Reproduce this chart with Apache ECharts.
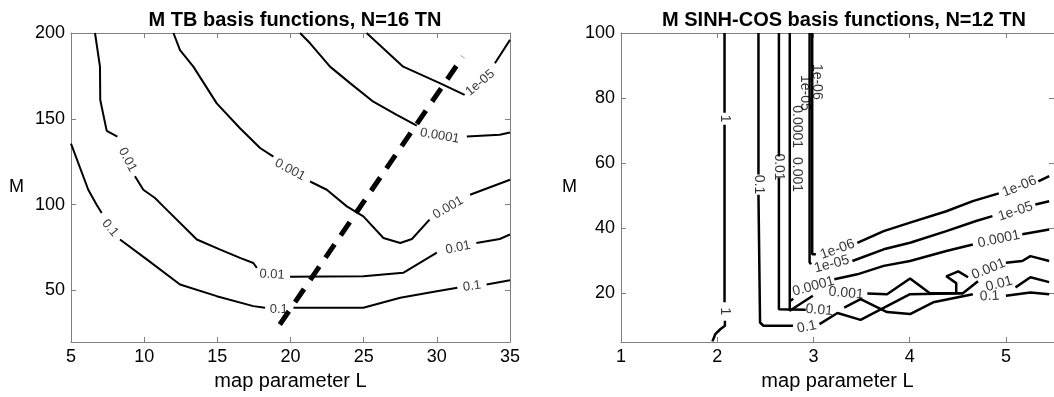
<!DOCTYPE html>
<html>
<head>
<meta charset="utf-8">
<script src="https://cdn.jsdelivr.net/npm/echarts@6/dist/echarts.min.js"></script>
<style>
  html, body { margin: 0; padding: 0; background: #fff; }
  #chart { width: 1054px; height: 397px; }
</style>
</head>
<body>
<div id="chart"></div>
<script>
// ---- left panel: M TB basis functions, N=16 TN  (x = L, y = M) ----
// null = gap in the contour where its label sits
var tbLevel01 = [[5,135.5],[6.18,108.7],[6.75,100],[7.1,95.2],null,[8.35,79.7],[10.2,68],[12.45,53.5],[14.96,46.7],[17.46,40.9],[18.26,40],null,[20.2,40],[24.98,40],[27.5,45.8],[30,49.6],[31.4,51.6],null,[33.4,53.5],[35,56]];
var tbLevel001 = [[6.64,200],[6.98,180.4],[7.0,161],[7.44,143],[8.17,139.7],null,[9.37,116.5],[9.94,108.7],[10.74,103.9],[11.31,99],[13.6,79.7],[15.2,73.8],[16.55,69],[17.46,66],[17.7,63.2],null,[19.97,58],[24.98,58.3],[27.7,60.3],[30,72],null,[32.7,77.7],[34.3,80],[35,82.6]];
var tbLevel0001 = [[12,200],[12.45,190],[13.36,180.4],[14.96,159],[16.55,144.5],[17.92,133],[18.83,128],null,[21.34,113.5],[22.48,108.7],[23.85,99],[24.98,93.2],[26.35,80.6],[27.5,77.7],[28.3,80],[29.5,91.3],null,[32.27,105.8],[35,114.5]];
var tbLevel00001 = [[20.65,200],[21.34,194],[22.7,180.4],[24.07,170.8],[25.66,160],[27.26,152.3],[28.63,146],null,[32.05,139.7],[34.3,140.7],[35,142]];
var tbLevel1e5 = [[25.2,200],[27.7,180.4],[30.2,170.8],[31.9,164],null,[33.97,182.4],[35,196]];
var tbDashed = [[19.27,30.2],[31.77,186.2]];
// [text, L, M, angle]
var tbLabels = [
  ['0.01', 8.86, 126.2, -62],
  ['0.1', 7.67, 86.3, -50],
  ['0.001', 19.97, 120.3, -28],
  ['0.01', 18.74, 59.3, -3],
  ['0.1', 19.2, 39, 0],
  ['0.0001', 30.2, 140.1, -10],
  ['1e-05', 32.96, 171, 40],
  ['0.001', 30.77, 98.2, 30],
  ['0.01', 31.45, 75, 12],
  ['0.1', 32.4, 52.5, 8]
];

// ---- right panel: M SINH-COS basis functions, N=12 TN ----
var scLevel1 = [[2.076,100],[2.076,75.5],null,[2.076,71.8],[2.076,17.2],null,[2.08,11.5],[2.08,10],[2.035,9],[1.98,7.4],[1.95,5.2]];
var scLevel01 = [[2.4286,100],[2.4286,56.5],null,[2.4286,50.3],[2.445,11],[2.48,10],[2.788,10],null,[3.063,10.5],[3.25,13.9],[3.49,11.8],[4.004,19.7],[4.553,20],null,[5.1,21.8],[5.255,24.9],[5.45,23.4]];
var scLevel001 = [[2.641,100],[2.641,62],null,[2.641,55.6],[2.641,15.1],[2.66,14.8],[2.92,14.9],null,[3.32,15.6],[3.49,18.2],[3.765,14.2],[4.004,13.6],[4.245,17.2],[4.656,19.7],null,[5.0,19.2],[5.255,20.2],[5.45,19.7]];
var scLevel0001 = [[2.754,100],[2.754,14.6],[2.994,19.2],null,[3.56,19.9],[3.765,19.7],[4.004,24.5],[4.21,20],[4.553,20],[4.71,23.7],null,[5.0,29.4],[5.17,29.9],[5.255,31.4],[5.45,29.9],null,[4.484,20],[4.484,23.1],[4.381,25.2],[4.505,26.7],[4.607,24.9]];
var scLevel00001 = [[2.754,17.5],[2.79,18.3],null,[3.217,24.3],[3.456,25.8],[3.73,28.4],[4.004,29.9],[4.381,33],[4.656,35],null,[5.17,38.1],[5.45,39.6]];
var scLevel1e5 = [[2.96,100],[2.96,29.5],[2.975,28.9],null,[3.405,29.9],[3.73,33.5],[4.004,35.5],[4.381,39.1],[4.69,42.2],[4.86,43.7],null,[5.306,47.3],[5.45,48.3]];
var scLevel1e6 = [[2.987,100],[2.987,32],[3.025,32],null,[3.456,35.5],[3.73,39.1],[4.004,41.7],[4.381,45.2],[4.656,48.3],[4.926,50.7],null,[5.337,54.4],[5.45,56]];
var scLabels = [
  ['1', 2.076, 73.7, -90],
  ['1', 2.076, 14.4, -90],
  ['0.1', 2.4286, 53.4, -90],
  ['0.01', 2.641, 58.8, -90],
  ['0.0001', 2.83, 71.2, -90],
  ['0.001', 2.83, 56.5, -90],
  ['1e-06', 3.04, 85, -90],
  ['1e-05', 2.91, 81.6, -90],
  ['1e-06', 3.25, 33.5, 20],
  ['1e-05', 3.19, 28.9, 15],
  ['0.0001', 3.0, 22.1, 15],
  ['0.001', 3.34, 20, -5],
  ['0.01', 3.06, 14.8, -5],
  ['0.1', 2.93, 9.6, 12],
  ['1e-06', 5.14, 52.8, 22],
  ['1e-05', 5.1, 45.1, 18],
  ['0.0001', 4.926, 36.6, 12],
  ['0.001', 4.82, 27.4, 22],
  ['0.01', 4.93, 22.8, 15],
  ['0.1', 4.83, 19.1, 3]
];

var tbXTicks = [5, 10, 15, 20, 25, 30, 35];
var tbYTicks = [50, 100, 150, 200];
var scXTicks = [1, 2, 3, 4, 5];
var scYTicks = [20, 40, 60, 80, 100];

var FONT = "'Liberation Sans', Arial, sans-serif";
var AXIS_GREY = '#808080';

function contour(points, axis, width) {
  return {
    type: 'line',
    xAxisIndex: axis, yAxisIndex: axis,
    data: points.map(function (p) { return p ? p : ['-', '-']; }),
    showSymbol: false, symbol: 'none',
    connectNulls: false,
    silent: true,
    lineStyle: { color: '#000', width: width }
  };
}

function labelSeries(list, axis, size) {
  return {
    type: 'scatter',
    xAxisIndex: axis, yAxisIndex: axis,
    symbolSize: 0,
    silent: true,
    clip: false,
    data: list.map(function (l) {
      return {
        value: [l[1], l[2]],
        label: { formatter: l[0], rotate: l[3] }
      };
    }),
    label: {
      show: true, position: 'inside', color: '#000',
      fontFamily: FONT, fontSize: size,
      align: 'center', verticalAlign: 'middle'
    }
  };
}

function xAxes(gridIdx, min, max, ticks) {
  var bottom = {
    type: 'value', gridIndex: gridIdx, position: 'bottom',
    min: min, max: max,
    name: 'map parameter L', nameLocation: 'middle', nameGap: 29,
    nameTextStyle: { fontFamily: FONT, fontSize: 20, color: '#000' },
    axisLine: { lineStyle: { color: AXIS_GREY } },
    axisTick: { inside: true, length: 5, customValues: ticks, lineStyle: { color: AXIS_GREY } },
    axisLabel: { customValues: ticks, fontFamily: FONT, fontSize: 18, color: '#000', margin: 6 },
    splitLine: { show: false }
  };
  var top = {
    type: 'value', gridIndex: gridIdx, position: 'top',
    min: min, max: max,
    axisLine: { lineStyle: { color: AXIS_GREY } },
    axisTick: { inside: true, length: 5, customValues: ticks, lineStyle: { color: AXIS_GREY } },
    axisLabel: { show: false },
    splitLine: { show: false }
  };
  return [bottom, top];
}

function yAxes(gridIdx, min, max, ticks, gap) {
  var left = {
    type: 'value', gridIndex: gridIdx, position: 'left',
    min: min, max: max,
    name: 'M', nameLocation: 'middle', nameGap: gap, nameRotate: 0,
    nameTextStyle: { fontFamily: FONT, fontSize: 18, color: '#000' },
    axisLine: { show: true, lineStyle: { color: AXIS_GREY } },
    axisTick: { show: true, inside: true, length: 5, customValues: ticks, lineStyle: { color: AXIS_GREY } },
    axisLabel: { customValues: ticks, fontFamily: FONT, fontSize: 18, color: '#000', margin: 6 },
    splitLine: { show: false }
  };
  var right = {
    type: 'value', gridIndex: gridIdx, position: 'right',
    min: min, max: max,
    axisLine: { show: true, lineStyle: { color: AXIS_GREY } },
    axisTick: { show: true, inside: true, length: 5, customValues: ticks, lineStyle: { color: AXIS_GREY } },
    axisLabel: { show: false },
    splitLine: { show: false }
  };
  return [left, right];
}

var chart = echarts.init(document.getElementById('chart'), null, { renderer: 'canvas' });

var option = {
  animation: false,
  backgroundColor: '#fff',
  title: [
    { text: 'M TB basis functions, N=16 TN', left: 290, top: 5, textAlign: 'center',
      textStyle: { fontFamily: FONT, fontSize: 20, fontWeight: 'bold', color: '#000' } },
    { text: 'M SINH-COS basis functions, N=12 TN', left: 839, top: 5, textAlign: 'center',
      textStyle: { fontFamily: FONT, fontSize: 20, fontWeight: 'bold', color: '#000' } }
  ],
  grid: [
    { left: 71, top: 33, width: 439, height: 309 },
    { left: 621, top: 33, width: 438, height: 309 }
  ],
  xAxis: [].concat(xAxes(0, 5, 35, tbXTicks), xAxes(1, 1, 5.5, scXTicks)),
  yAxis: [].concat(yAxes(0, 20, 200, tbYTicks, 47), yAxes(1, 5, 100, scYTicks, 44)),
  series: [
    contour(tbLevel01, 0, 2),
    contour(tbLevel001, 0, 2),
    contour(tbLevel0001, 0, 2),
    contour(tbLevel00001, 0, 2),
    contour(tbLevel1e5, 0, 2),
    {
      type: 'line', xAxisIndex: 0, yAxisIndex: 0,
      data: tbDashed, showSymbol: false, symbol: 'none', silent: true,
      lineStyle: { color: '#000', width: 5, type: [16, 11], cap: 'butt' }
    },
    labelSeries(tbLabels, 0, 13),
    contour(scLevel1, 2, 2.5),
    contour(scLevel01, 2, 2.5),
    contour(scLevel001, 2, 2.5),
    contour(scLevel0001, 2, 2.5),
    contour(scLevel00001, 2, 2.5),
    contour(scLevel1e5, 2, 2.5),
    contour(scLevel1e6, 2, 2.5),
    labelSeries(scLabels, 2, 14)
  ]
};

chart.setOption(option);
</script>
</body>
</html>
